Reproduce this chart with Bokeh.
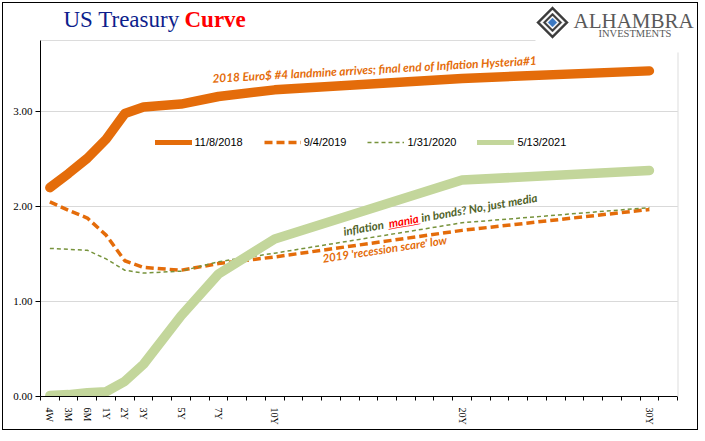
import math
from bokeh.plotting import figure
from bokeh.models import (Range1d, FixedTicker, NumeralTickFormatter, Label, PolyAnnotation,
                          BoxAnnotation, Legend, LegendItem)
from bokeh.embed import file_html
from bokeh.resources import INLINE

# ---------------- data ----------------
categories = (["4W", "3M", "6M", "1Y", "2Y", "3Y", "", "5Y", "", "7Y", "", "", "10Y"]
              + [""] * 9 + ["20Y"] + [""] * 9 + ["30Y", ""])
tenors = [c for c in categories if c]
x_pos = [i for i, c in enumerate(categories) if c]

dates = ["11/8/2018", "9/4/2019", "1/31/2020", "5/13/2021"]
y_2018 = [2.20, 2.35, 2.51, 2.71, 2.98, 3.05, 3.08, 3.16, 3.23, 3.35, 3.43]
y_2019 = [2.05, 1.96, 1.88, 1.70, 1.43, 1.36, 1.33, 1.40, 1.47, 1.75, 1.97]
y_2020 = [1.56, 1.55, 1.54, 1.45, 1.33, 1.30, 1.32, 1.42, 1.51, 1.83, 1.99]
y_2021 = [0.01, 0.02, 0.04, 0.05, 0.16, 0.34, 0.85, 1.29, 1.66, 2.28, 2.38]
y_ticks = [0, 1, 2, 3]
y_max = 3.75

# ---------------- layout (window pixels) ----------------
OFF = 3                      # content origin inside the outer frame
CW, CH = 696, 428            # content size (window 3 -> 699, 3 -> 431)
AX_L, AX_R, AX_T, AX_B = 40, 677, 40, 396   # plot-area box of the original
X0, X1 = -0.5, len(categories) - 0.5
U = (AX_R - AX_L) / (X1 - X0)               # px per category
V = (AX_B - AX_T) / y_max                   # px per unit of yield
MID = 0.36                                  # baseline -> middle offset (em)


def dx(wx):
    return X0 + (wx - AX_L) / U


def dy(wy):
    return (AX_B - wy) / V


ORANGE = "#E46C0A"
OLIVE = "#77933C"
LIGHTGREEN = "#C3D69B"
DARKGREEN = "#4F6228"

p = figure(width=CW, height=CH,
           x_range=Range1d(X0, dx(OFF + CW)), y_range=Range1d(0, dy(OFF)),
           output_backend="svg", toolbar_location=None,
           min_border_left=AX_L - OFF, min_border_right=0,
           min_border_top=0, min_border_bottom=OFF + CH - AX_B,
           styles={"border": "1.5px solid black", "margin": "1.5px"})
p.outline_line_color = None
p.background_fill_color = "white"
p.border_fill_color = "white"


def text(wx, wy, txt, font, size, color, style="normal", angle=0.0):
    """Label whose alphabetic baseline starts at window pixel (wx, wy)."""
    p.add_layout(Label(x=dx(wx), y=dy(wy - MID * size), text=txt, angle=angle,
                       text_font=font, text_font_size=f"{size}px", text_font_style=style,
                       text_color=color, text_baseline="middle", text_align="left"))


# x axis
xa = p.xaxis[0]
xa.bounds = (X0, X1)
xa.ticker = FixedTicker(ticks=x_pos, minor_ticks=[k - 0.5 for k in range(len(categories) + 1)])
xa.major_label_overrides = {i: t for i, t in zip(x_pos, tenors)}
xa.major_tick_in = 0
xa.major_tick_out = 0
xa.minor_tick_in = 0
xa.minor_tick_out = 4
xa.minor_tick_line_color = "black"
xa.axis_line_color = "black"
xa.major_label_orientation = -math.pi / 2
xa.major_label_standoff = 7
xa.major_label_text_font = "Liberation Serif"
xa.major_label_text_font_size = "10px"
xa.major_label_text_color = "black"
p.xgrid.visible = False

# y axis
ya = p.yaxis[0]
ya.bounds = (0, y_max)
ya.ticker = FixedTicker(ticks=y_ticks)
ya.formatter = NumeralTickFormatter(format="0.00")
ya.major_tick_in = 0
ya.major_tick_out = 5
ya.minor_tick_line_color = None
ya.axis_line_color = "black"
ya.major_label_standoff = 3
ya.major_label_text_font = "Liberation Serif"
ya.major_label_text_font_size = "11px"
ya.major_label_text_color = "black"
p.ygrid.ticker = FixedTicker(ticks=y_ticks)
p.ygrid.grid_line_color = "#D9D9D9"

# keep the gridlines inside the plot area
p.add_layout(BoxAnnotation(left=X1, bottom=-0.2, top=dy(60), fill_color="white", fill_alpha=1,
                           line_color=None))

# plot-area border (top and right, gray), interrupted by the logo
p.add_layout(PolyAnnotation(xs=[dx(AX_L), dx(535)], ys=[dy(AX_T), dy(AX_T)], fill_alpha=0,
                            line_color="#8A8A8A", line_width=1))
p.add_layout(PolyAnnotation(xs=[dx(AX_R + 0.5), dx(AX_R + 0.5)], ys=[dy(52), dy(AX_B)],
                            fill_alpha=0, line_color="#8A8A8A", line_width=1))

# series (legend samples are thinner, as in the original: drawn beneath the thick lines)
leg_2018 = p.line(x_pos, y_2018, line_color=ORANGE, line_width=5, line_cap="round")
leg_2021 = p.line(x_pos, y_2021, line_color=LIGHTGREEN, line_width=5, line_cap="round")
r2018 = p.line(x_pos, y_2018, line_color=ORANGE, line_width=9.5, line_cap="round",
               line_join="round")
r2019 = p.line(x_pos, y_2019, line_color=ORANGE, line_width=3.5, line_dash="8 4")
r2020 = p.line(x_pos, y_2020, line_color=OLIVE, line_width=1.5, line_dash="4 3")
r2021 = p.line(x_pos, y_2021, line_color=LIGHTGREEN, line_width=9.5, line_cap="round",
               line_join="round")

items = [LegendItem(label=d, renderers=[r]) for d, r in
         zip(dates, [leg_2018, r2019, r2020, leg_2021])]
lg = Legend(items=items, orientation="horizontal", location=(115, 248), margin=0, padding=0,
            spacing=21, glyph_width=37, glyph_height=12, label_height=12, label_standoff=3,
            border_line_color=None, background_fill_alpha=0, label_text_font="Liberation Sans",
            label_text_font_size="11px", label_text_color="black")
p.add_layout(lg, "center")

# title
text(63, 27, "US Treasury", "Liberation Serif", 23, "#0D1E8C")
text(184, 27, "Curve", "Liberation Serif", 23, "#FF0000", style="bold")

# logo
cx, cy = 552, 22


def diamond(r, color):
    p.add_layout(PolyAnnotation(xs=[dx(cx - r), dx(cx), dx(cx + r), dx(cx)],
                                ys=[dy(cy), dy(cy - r), dy(cy), dy(cy + r)],
                                fill_color=color, fill_alpha=1, line_color=color, line_width=1))


diamond(16, "#3C3C3C")
diamond(12.5, "white")
diamond(9.5, "#3C3C3C")
diamond(6.5, "white")
diamond(4.5, "#3A78C2")
text(573, 28, "ALHAMBRA", "Liberation Serif", 21, "#595959")
text(598, 37, "INVESTMENTS", "Liberation Serif", 10.5, "#595959")

# annotations
ann_font = "Lato"
text(212, 82, "2018 Euro$ #4 landmine arrives; final end of Inflation Hysteria#1",
     ann_font, 11.8, ORANGE, style="bold italic", angle=math.radians(3.2))

th = math.radians(10)
sx, sy = 343, 235
for d, txt, col in [(0, "inflation", DARKGREEN), (46, "mania", "#FF0000"),
                    (79, "in bonds? No, just media", DARKGREEN)]:
    text(sx + d * math.cos(th), sy - d * math.sin(th), txt, ann_font, 11.5, col,
         style="bold italic", angle=th)
text(sx + 45 * math.cos(th), sy - 45 * math.sin(th), "_____", "Liberation Sans", 11.5,
     "#FF0000", angle=th)

text(322, 262, "2019 'recession scare' low", ann_font, 11.5, ORANGE, style="bold italic",
     angle=math.radians(8.6))

open("out.html", "w").write(file_html(p, INLINE))
